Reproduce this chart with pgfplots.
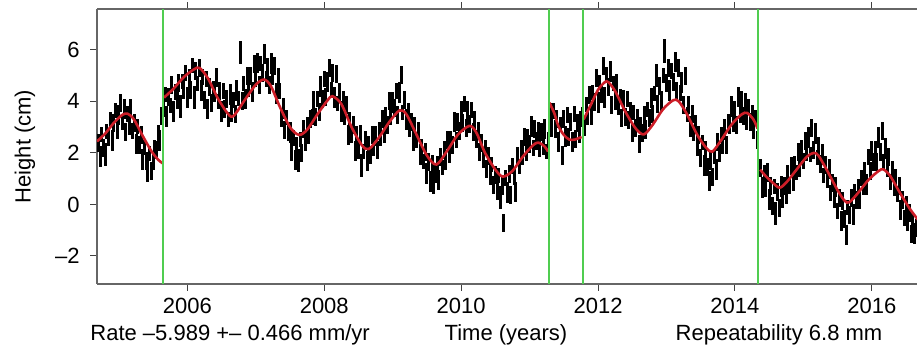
\documentclass[border=0pt]{standalone}
\usepackage{pgfplots}
\pgfplotsset{compat=1.18}
\usepackage{pgfplotstable}
\usepackage{fontspec}
\setmainfont{Liberation Sans}
\usetikzlibrary{calc}

\definecolor{fitred}{RGB}{205,30,40}
\definecolor{offsetgreen}{RGB}{80,205,80}
\definecolor{framegray}{gray}{0.4}

% daily height solutions: epoch (yr), height (cm), sigma (cm)
\pgfplotstableread{
t h e
2004.700 2.40 0.35
2004.725 1.86 0.40
2004.750 2.72 0.30
2004.775 2.18 0.35
2004.800 1.95 0.45
2004.825 2.83 0.30
2004.850 2.62 0.35
2004.875 3.30 0.30
2004.900 2.48 0.40
2004.925 3.16 0.35
2004.950 3.65 0.30
2004.975 2.91 0.35
2005.000 3.48 0.40
2005.025 3.93 0.35
2005.050 3.18 0.30
2005.075 3.70 0.40
2005.100 2.82 0.35
2005.125 3.51 0.30
2005.150 3.10 0.40
2005.175 3.73 0.35
2005.200 2.86 0.30
2005.225 3.15 0.35
2005.250 2.35 0.40
2005.275 3.02 0.30
2005.300 2.30 0.35
2005.325 2.68 0.35
2005.350 1.75 0.40
2005.375 2.22 0.30
2005.400 1.70 0.35
2005.425 1.29 0.40
2005.450 1.98 0.30
2005.475 1.28 0.35
2005.500 1.68 0.35
2005.525 2.19 0.30
2005.550 2.10 0.35
2005.575 2.74 0.35
2005.600 2.48 0.40
2005.625 3.44 0.35
2005.650 3.73 0.35
2005.675 4.27 0.30
2005.700 3.42 0.40
2005.725 4.18 0.35
2005.750 3.85 0.30
2005.775 4.62 0.35
2005.800 3.60 0.40
2005.825 4.37 0.30
2005.850 4.05 0.35
2005.875 4.72 0.35
2005.900 3.80 0.45
2005.925 4.77 0.30
2005.950 4.45 0.35
2005.975 5.10 0.30
2006.000 4.15 0.40
2006.025 4.90 0.35
2006.050 4.45 0.35
2006.075 5.40 0.30
2006.100 4.15 0.45
2006.125 5.17 0.35
2006.150 4.69 0.30
2006.175 5.30 0.35
2006.200 4.43 0.40
2006.225 4.95 0.30
2006.250 4.07 0.35
2006.275 4.88 0.30
2006.300 3.70 0.40
2006.325 4.57 0.35
2006.350 3.93 0.35
2006.375 4.50 0.30
2006.400 4.37 0.40
2006.425 4.93 0.35
2006.450 4.00 0.30
2006.475 4.40 0.35
2006.500 3.60 0.40
2006.525 4.40 0.30
2006.550 3.70 0.35
2006.575 4.10 0.35
2006.600 3.30 0.30
2006.625 4.27 0.40
2006.650 3.56 0.35
2006.675 4.05 0.30
2006.700 3.53 0.35
2006.725 4.42 0.40
2006.750 4.12 0.30
2006.775 5.90 0.45
2006.800 4.01 0.35
2006.825 4.70 0.30
2006.850 4.10 0.40
2006.875 4.99 0.35
2006.900 4.48 0.30
2006.925 4.97 0.35
2006.950 4.37 0.40
2006.975 5.46 0.35
2007.000 4.85 0.30
2007.025 5.49 0.40
2007.050 4.63 0.35
2007.075 5.47 0.30
2007.100 5.11 0.35
2007.125 5.85 0.40
2007.150 4.88 0.30
2007.175 5.32 0.35
2007.200 4.65 0.35
2007.225 5.47 0.40
2007.250 4.92 0.30
2007.275 5.36 0.35
2007.300 4.31 0.40
2007.325 4.95 0.35
2007.350 4.40 0.30
2007.375 3.37 0.35
2007.400 3.73 0.40
2007.425 2.90 0.35
2007.450 3.37 0.30
2007.475 2.83 0.35
2007.500 2.80 0.40
2007.525 2.04 0.35
2007.550 2.58 0.30
2007.575 1.72 0.40
2007.600 2.27 0.35
2007.625 1.71 0.45
2007.650 2.53 0.30
2007.675 1.98 0.35
2007.700 2.92 0.35
2007.725 2.46 0.40
2007.750 3.10 0.30
2007.775 2.70 0.35
2007.800 3.30 0.35
2007.825 3.40 0.30
2007.850 4.00 0.40
2007.875 3.40 0.35
2007.900 4.10 0.30
2007.925 3.59 0.35
2007.950 4.58 0.40
2007.975 4.08 0.35
2008.000 4.87 0.30
2008.025 4.16 0.35
2008.050 4.75 0.40
2008.075 5.30 0.35
2008.100 4.45 0.30
2008.125 5.10 0.35
2008.150 4.15 0.40
2008.175 5.08 0.35
2008.200 3.92 0.30
2008.225 4.38 0.35
2008.250 3.60 0.40
2008.275 4.05 0.35
2008.300 3.40 0.30
2008.325 3.85 0.35
2008.350 2.70 0.40
2008.375 3.25 0.35
2008.400 2.70 0.30
2008.425 3.08 0.35
2008.450 2.07 0.40
2008.475 2.75 0.30
2008.500 2.13 0.35
2008.525 2.72 0.35
2008.550 1.50 0.45
2008.575 2.06 0.30
2008.600 2.52 0.35
2008.625 1.69 0.40
2008.650 2.35 0.30
2008.675 1.92 0.35
2008.700 2.70 0.35
2008.725 2.17 0.30
2008.750 2.65 0.40
2008.775 2.12 0.35
2008.800 2.90 0.30
2008.825 2.60 0.35
2008.850 3.30 0.35
2008.875 2.80 0.40
2008.900 3.50 0.30
2008.925 3.10 0.35
2008.950 4.00 0.35
2008.975 3.38 0.30
2009.000 3.95 0.40
2009.025 3.73 0.35
2009.050 4.40 0.30
2009.075 3.48 0.35
2009.100 4.35 0.40
2009.125 5.01 0.35
2009.150 3.58 0.30
2009.175 4.04 0.35
2009.200 3.30 0.40
2009.225 3.57 0.35
2009.250 2.93 0.30
2009.275 3.20 0.35
2009.300 2.47 0.40
2009.325 3.03 0.35
2009.350 2.50 0.30
2009.375 2.87 0.35
2009.400 1.93 0.40
2009.425 2.20 0.35
2009.450 1.67 0.30
2009.475 2.03 0.35
2009.500 1.20 0.40
2009.525 1.64 0.35
2009.550 0.88 0.40
2009.575 1.61 0.30
2009.600 0.85 0.45
2009.625 1.19 0.35
2009.650 1.57 0.30
2009.675 0.95 0.40
2009.700 1.84 0.35
2009.725 1.43 0.30
2009.750 2.13 0.35
2009.775 1.72 0.40
2009.800 2.50 0.35
2009.825 1.90 0.30
2009.850 2.50 0.35
2009.875 2.30 0.35
2009.900 3.20 0.40
2009.925 2.50 0.30
2009.950 3.20 0.35
2009.975 2.85 0.35
2010.000 3.60 0.40
2010.025 3.16 0.35
2010.050 3.90 0.30
2010.075 2.95 0.35
2010.100 3.60 0.40
2010.125 3.14 0.35
2010.150 3.67 0.30
2010.175 2.80 0.35
2010.200 3.24 0.40
2010.225 2.54 0.35
2010.250 2.89 0.30
2010.275 2.03 0.35
2010.300 2.38 0.35
2010.325 1.82 0.40
2010.350 2.20 0.30
2010.375 1.39 0.35
2010.400 1.88 0.35
2010.425 1.17 0.40
2010.450 1.56 0.30
2010.475 0.76 0.35
2010.500 1.15 0.35
2010.525 0.59 0.40
2010.550 1.13 0.30
2010.575 0.26 0.45
2010.600 0.70 0.35
2010.625 -0.72 0.35
2010.650 1.02 0.30
2010.675 0.46 0.40
2010.700 1.20 0.35
2010.725 0.36 0.35
2010.750 1.50 0.30
2010.775 1.09 0.35
2010.800 0.48 0.40
2010.825 1.87 0.35
2010.850 1.47 0.30
2010.875 2.16 0.35
2010.900 1.95 0.40
2010.925 2.63 0.35
2010.950 2.00 0.30
2010.975 2.58 0.35
2011.000 2.35 0.35
2011.025 3.03 0.40
2011.050 2.20 0.30
2011.075 2.93 0.35
2011.100 2.46 0.35
2011.125 2.79 0.40
2011.150 2.16 0.30
2011.175 2.82 0.35
2011.200 2.28 0.35
2011.225 2.93 0.40
2011.250 2.05 0.30
2011.275 2.47 0.35
2011.300 3.59 0.35
2011.325 3.00 0.40
2011.350 3.63 0.30
2011.375 2.92 0.35
2011.400 3.32 0.35
2011.425 2.42 0.40
2011.450 3.11 0.30
2011.475 1.90 0.35
2011.500 3.30 0.35
2011.525 2.64 0.40
2011.550 3.48 0.30
2011.575 2.63 0.35
2011.600 3.22 0.35
2011.625 2.42 0.40
2011.650 3.52 0.30
2011.675 2.54 0.35
2011.700 3.16 0.35
2011.725 2.78 0.40
2011.750 3.31 0.30
2011.775 3.45 0.35
2011.800 3.05 0.40
2011.825 3.89 0.30
2011.850 3.43 0.35
2011.875 4.26 0.35
2011.900 3.50 0.40
2011.925 4.34 0.30
2011.950 3.98 0.35
2011.975 4.91 0.35
2012.000 3.95 0.40
2012.025 4.73 0.30
2012.050 4.30 0.35
2012.075 5.38 0.35
2012.100 4.15 0.40
2012.125 5.05 0.30
2012.150 4.55 0.35
2012.175 5.16 0.40
2012.200 3.88 0.35
2012.225 4.69 0.30
2012.250 4.00 0.35
2012.275 4.67 0.40
2012.300 3.83 0.35
2012.325 4.20 0.30
2012.350 3.37 0.35
2012.375 4.03 0.40
2012.400 3.40 0.35
2012.425 4.09 0.30
2012.450 3.28 0.35
2012.475 3.58 0.40
2012.500 2.77 0.35
2012.525 3.56 0.30
2012.550 2.95 0.35
2012.575 3.30 0.40
2012.600 2.35 0.35
2012.625 3.11 0.30
2012.650 2.76 0.35
2012.675 3.43 0.40
2012.700 2.91 0.35
2012.725 3.68 0.30
2012.750 3.36 0.35
2012.775 4.13 0.40
2012.800 3.50 0.35
2012.825 4.30 0.30
2012.850 5.00 0.45
2012.875 3.90 0.35
2012.900 4.60 0.35
2012.925 4.00 0.40
2012.950 5.00 0.30
2012.975 5.96 0.45
2013.000 4.72 0.35
2013.025 5.28 0.35
2013.050 4.43 0.40
2013.075 5.19 0.30
2013.100 4.75 0.35
2013.125 5.53 0.40
2013.150 4.42 0.35
2013.175 5.30 0.35
2013.200 4.32 0.30
2013.225 4.73 0.40
2013.250 3.85 0.35
2013.275 4.97 0.35
2013.300 3.50 0.30
2013.325 3.87 0.35
2013.350 3.03 0.40
2013.375 3.50 0.35
2013.400 2.77 0.30
2013.425 3.13 0.35
2013.450 2.30 0.40
2013.475 2.70 0.35
2013.500 1.81 0.35
2013.525 2.41 0.30
2013.550 1.52 0.40
2013.575 2.12 0.35
2013.600 1.46 0.35
2013.625 0.91 0.40
2013.650 1.67 0.35
2013.675 1.06 0.35
2013.700 1.86 0.30
2013.725 1.35 0.40
2013.750 2.43 0.35
2013.775 2.01 0.35
2013.800 2.70 0.30
2013.825 2.30 0.35
2013.850 2.90 0.40
2013.875 2.30 0.35
2013.900 3.20 0.30
2013.925 3.10 0.35
2013.950 3.80 0.40
2013.975 3.17 0.35
2014.000 3.73 0.30
2014.025 3.10 0.35
2014.050 4.17 0.40
2014.075 3.53 0.35
2014.100 4.10 0.30
2014.125 3.42 0.35
2014.150 3.94 0.40
2014.175 3.25 0.35
2014.200 3.80 0.30
2014.225 3.22 0.35
2014.250 3.46 0.40
2014.275 2.88 0.35
2014.300 3.35 0.30
2014.325 2.52 0.35
2014.375 1.43 0.35
2014.400 0.66 0.40
2014.425 1.18 0.35
2014.450 0.60 0.30
2014.475 1.24 0.35
2014.500 0.18 0.40
2014.525 0.71 0.35
2014.550 -0.05 0.35
2014.575 0.70 0.30
2014.600 -0.35 0.45
2014.625 0.50 0.35
2014.650 -0.15 0.35
2014.675 0.70 0.40
2014.700 0.15 0.30
2014.725 0.70 0.35
2014.750 0.35 0.35
2014.775 1.13 0.40
2014.800 0.72 0.30
2014.825 1.50 0.35
2014.850 0.88 0.35
2014.875 1.47 0.40
2014.900 1.25 0.30
2014.925 2.03 0.35
2014.950 1.42 0.35
2014.975 2.10 0.40
2015.000 1.68 0.30
2015.025 2.47 0.35
2015.050 2.05 0.35
2015.075 2.59 0.40
2015.100 1.93 0.30
2015.125 2.96 0.35
2015.150 2.10 0.35
2015.175 2.76 0.40
2015.200 1.83 0.30
2015.225 2.28 0.35
2015.250 1.57 0.35
2015.275 1.95 0.40
2015.300 1.13 0.30
2015.325 1.52 0.35
2015.350 1.00 0.35
2015.375 1.38 0.40
2015.400 0.45 0.30
2015.425 0.83 0.35
2015.450 0.20 0.35
2015.475 0.68 0.40
2015.500 -0.25 0.30
2015.525 0.25 0.35
2015.550 -0.65 0.40
2015.575 0.15 0.35
2015.600 -0.55 0.35
2015.625 -1.18 0.40
2015.650 -0.11 0.30
2015.675 -0.42 0.35
2015.700 0.25 0.35
2015.725 -0.38 0.40
2015.750 0.50 0.30
2015.775 0.17 0.35
2015.800 0.65 0.35
2015.825 0.23 0.40
2015.850 1.02 0.30
2015.875 0.70 0.35
2015.900 1.28 0.35
2015.925 0.77 0.40
2015.950 1.85 0.30
2015.975 1.31 0.35
2016.000 2.07 0.40
2016.025 1.63 0.35
2016.050 2.18 0.30
2016.075 1.64 0.35
2016.100 2.60 0.40
2016.125 2.02 0.35
2016.150 2.84 0.35
2016.175 1.65 0.30
2016.200 2.18 0.40
2016.225 1.42 0.35
2016.250 1.85 0.35
2016.275 0.87 0.30
2016.300 1.35 0.35
2016.325 0.74 0.40
2016.350 1.03 0.35
2016.375 0.41 0.30
2016.400 0.70 0.35
2016.425 -0.21 0.40
2016.450 0.18 0.35
2016.475 -0.53 0.30
2016.500 -0.03 0.35
2016.525 -0.64 0.40
2016.550 -0.35 0.35
2016.575 -1.14 0.35
2016.600 -0.63 0.30
2016.625 -1.12 0.40
2016.650 -0.91 0.35
}\heights

\begin{document}
\begin{tikzpicture}[font=\fontsize{11}{13}\selectfont]
\begin{axis}[
  scale only axis, width=410pt, height=137.5pt,
  xmin=2004.68, xmax=2016.66, ymin=-3.09, ymax=7.59,
  axis x line*=box, axis y line*=left,
  axis line style={framegray, line width=1.3pt},
  every tick/.style={black!75, line width=0.5pt},
  tick align=outside, major tick length=3.5pt,
  xtick={2006,2008,2010,2012,2014,2016},
  xticklabels={2006,2008,2010,2012,2014,2016},
  ytick={-2,0,2,4,6},
  yticklabel=\empty,
  xticklabel style={anchor=base, inner sep=0pt, yshift=-11.5pt},
  clip=true,
]
% observations with their formal errors
\addplot[mark=none, draw=none,
  error bars/.cd, y dir=both, y explicit, error mark=none,
  error bar style={draw=black, line width=1.5pt}]
  table[x=t, y=h, y error=e] {\heights};

% fitted model, one piece between each pair of offsets
\addplot[fitred, line width=1.3pt, smooth] coordinates {
  (2004.68,2.45) (2004.80,2.75) (2004.92,3.15) (2005.05,3.48) (2005.13,3.52)
  (2005.22,3.30) (2005.35,2.65) (2005.48,2.05) (2005.58,1.72) (2005.64,1.60)};
\addplot[fitred, line width=1.3pt, smooth] coordinates {
  (2005.66,4.15) (2005.80,4.50) (2005.95,4.95) (2006.10,5.25) (2006.18,5.30)
  (2006.30,4.90) (2006.45,4.10) (2006.60,3.50) (2006.68,3.45) (2006.85,4.10)
  (2007.00,4.65) (2007.12,4.85) (2007.22,4.60) (2007.35,3.80) (2007.50,3.00)
  (2007.63,2.70) (2007.75,2.90) (2007.90,3.50) (2008.05,4.05) (2008.12,4.20)
  (2008.25,3.90) (2008.40,3.00) (2008.55,2.30) (2008.65,2.15) (2008.80,2.60)
  (2008.95,3.20) (2009.10,3.65) (2009.20,3.50) (2009.35,2.70) (2009.50,1.90)
  (2009.64,1.55) (2009.80,2.10) (2009.95,2.70) (2010.12,3.05) (2010.22,2.80)
  (2010.35,2.00) (2010.50,1.35) (2010.61,1.08) (2010.75,1.30) (2010.90,1.85)
  (2011.05,2.30) (2011.13,2.40) (2011.22,2.25) (2011.27,2.05)};
\addplot[fitred, line width=1.3pt, smooth] coordinates {
  (2011.29,3.95) (2011.36,3.55) (2011.42,3.05) (2011.50,2.70) (2011.58,2.52)
  (2011.66,2.52) (2011.76,2.62)};
\addplot[fitred, line width=1.3pt, smooth] coordinates {
  (2011.79,3.30) (2011.90,3.90) (2012.00,4.45) (2012.10,4.75) (2012.15,4.75)
  (2012.25,4.40) (2012.40,3.60) (2012.55,2.95) (2012.67,2.72) (2012.80,3.10)
  (2012.95,3.70) (2013.10,4.05) (2013.18,4.00) (2013.30,3.50) (2013.45,2.70)
  (2013.58,2.20) (2013.67,2.05) (2013.80,2.50) (2013.95,3.10) (2014.10,3.50)
  (2014.18,3.55) (2014.27,3.30) (2014.33,2.95)};
\addplot[fitred, line width=1.3pt, smooth] coordinates {
  (2014.37,1.35) (2014.45,1.10) (2014.55,0.85) (2014.65,0.65) (2014.75,0.85)
  (2014.90,1.35) (2015.05,1.85) (2015.15,2.00) (2015.22,1.90) (2015.35,1.30)
  (2015.50,0.55) (2015.60,0.15) (2015.67,0.08) (2015.80,0.45) (2015.95,0.95)
  (2016.10,1.30) (2016.17,1.36) (2016.27,1.10) (2016.40,0.50) (2016.55,-0.15)
  (2016.69,-0.65)};

% epochs of equipment changes / offsets
\addplot[offsetgreen, line width=1pt] coordinates {(2005.645,-3.09) (2005.645,7.59)};
\addplot[offsetgreen, line width=1pt] coordinates {(2011.278,-3.09) (2011.278,7.59)};
\addplot[offsetgreen, line width=1pt] coordinates {(2011.775,-3.09) (2011.775,7.59)};
\addplot[offsetgreen, line width=1pt] coordinates {(2014.330,-3.09) (2014.330,7.59)};
\end{axis}

% height tick labels, set 8.5pt clear of the frame
\foreach \v/\lab in {14.03/–2, 39.78/0, 65.53/2, 91.28/4, 117.04/6}
  \node[anchor=east, inner sep=0pt] at ($(current axis.south west)+(-8.5pt,\v pt)$) {\lab};

\node[anchor=base west, inner sep=0pt] at ($(current axis.south west)+(-3.5pt,-28.5pt)$)
  {Rate –5.989 +– 0.466 mm/yr};
\node[anchor=base, inner sep=0pt] at ($(current axis.south west)+(204.5pt,-28.5pt)$)
  {Time (years)};
\node[anchor=base, inner sep=0pt] at ($(current axis.south west)+(341pt,-28.5pt)$)
  {Repeatability 6.8 mm};
\node[rotate=90, anchor=center, inner sep=0pt] at ($(current axis.south west)+(-36pt,68.75pt)$)
  {Height (cm)};

\pgfresetboundingbox
\path[use as bounding box] ($(current axis.south west)+(-48.5pt,-33.5pt)$)
  rectangle ($(current axis.north east)+(0pt,4.5pt)$);
\end{tikzpicture}
\end{document}
